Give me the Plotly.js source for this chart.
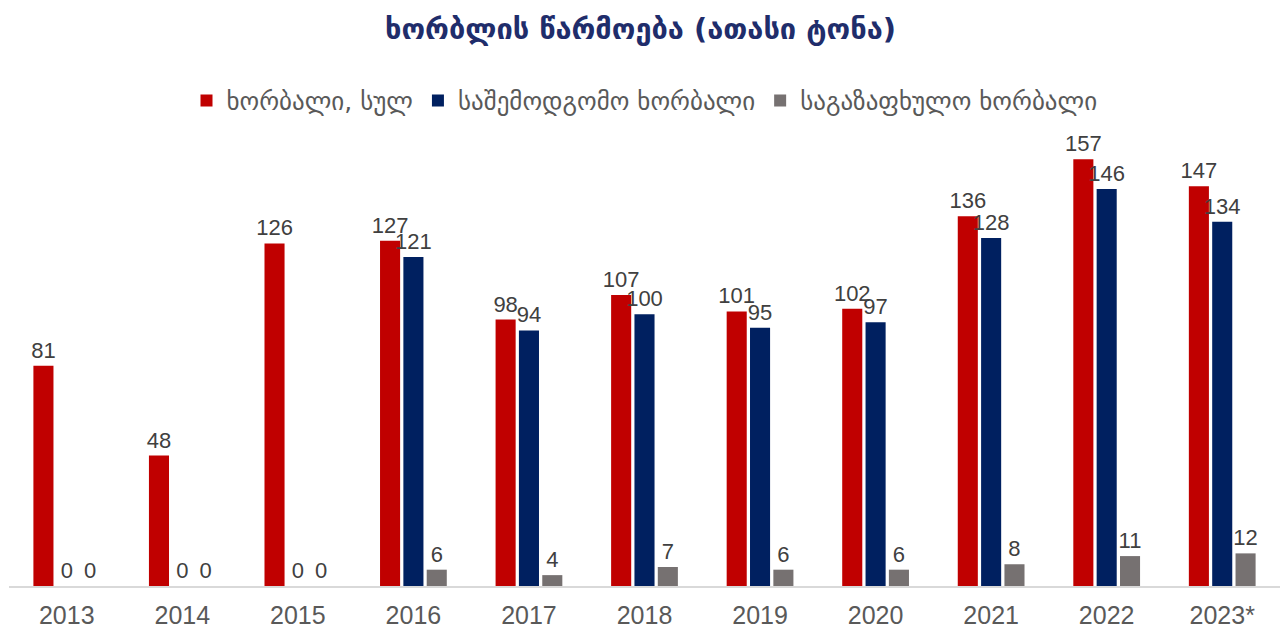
<!DOCTYPE html>
<html>
<head>
<meta charset="utf-8">
<script src="https://cdn.plot.ly/plotly-3.0.1.min.js"></script>
<style>html,body{margin:0;padding:0;background:#fff;}#chart{width:1281px;height:634px;}</style>
</head>
<body>
<div id="chart"></div>
<script>
var years = ["2013","2014","2015","2016","2017","2018","2019","2020","2021","2022","2023*"];
var totalWheat = [81,48,126,127,98,107,101,102,136,157,147];
var winterWheat = [0,0,0,121,94,100,95,97,128,146,134];
var springWheat = [0,0,0,6,4,7,6,6,8,11,12];
var seriesNames = ["ხორბალი, სულ","საშემოდგომო ხორბალი","საგაზაფხულო ხორბალი"];
var titleText = "ხორბლის წარმოება (ათასი ტონა)";

function mk(name, y, color, fs){
  return {
    type:'bar', name:name, x:years, y:y,
    marker:{color:color, line:{width:0}},
    text:y.map(String), textposition:'outside', cliponaxis:false,
    constraintext:'none',
    textfont:{family:'Liberation Sans, Arial, sans-serif', size:fs, color:'#404040'},
    hoverinfo:'x+y'
  };
}
var data = [
  mk(seriesNames[0], totalWheat, '#C00000', 22),
  mk(seriesNames[1], winterWheat, '#002060', 22),
  mk(seriesNames[2], springWheat, '#767171', 22)
];
var layout = {
  width:1281, height:634,
  margin:{l:9, r:1, t:151, b:48},
  paper_bgcolor:'#fff', plot_bgcolor:'#fff',
  title:{text:'<b>'+titleText+'</b>', x:0.5, xanchor:'center', y:0.955, yanchor:'middle',
    font:{family:'DejaVu Sans, Noto Sans, sans-serif', size:29, color:'#1F2D6B'}},
  barmode:'group', bargap:0.394, bargroupgap:0.14,
  showlegend:true,
  legend:{orientation:'h', x:0.5, xanchor:'center', y:0.805, yanchor:'bottom', yref:'container',
    font:{family:'DejaVu Sans, Noto Sans, sans-serif', size:25, color:'#595959'},
    itemwidth:30, tracegroupgap:0},
  xaxis:{type:'category', showgrid:false, zeroline:false, showline:true, linecolor:'#D9D9D9', linewidth:2,
    ticks:'', tickfont:{family:'Liberation Sans, Arial, sans-serif', size:25, color:'#595959'}, ticklabelstandoff:6},
  yaxis:{range:[0,160], visible:false, showgrid:false, zeroline:false}
};
Plotly.newPlot('chart', data, layout, {displayModeBar:false, staticPlot:true});
</script>
</body>
</html>
